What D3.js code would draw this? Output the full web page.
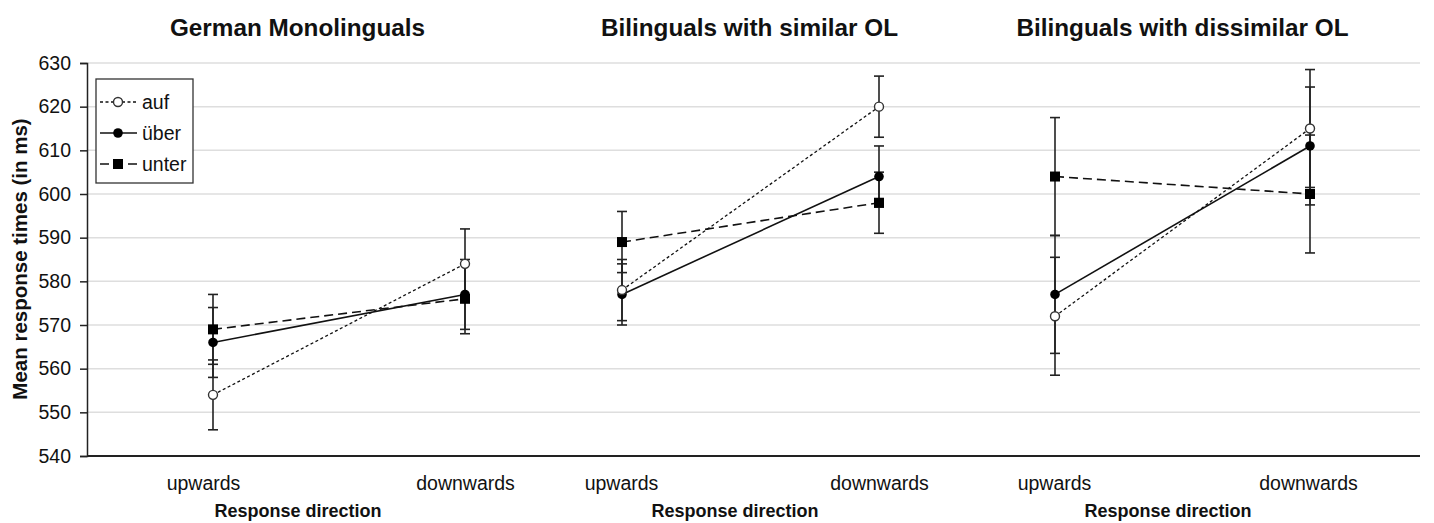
<!DOCTYPE html>
<html><head><meta charset="utf-8">
<script src="https://cdn.jsdelivr.net/npm/d3@7"></script>
<style>
body{margin:0;background:#fff;}
text{font-family:"Liberation Sans",Arial,sans-serif;fill:#111;}
</style></head>
<body><svg id="c" width="1434" height="523"></svg>
<script>
const panels = ["German Monolinguals","Bilinguals with similar OL","Bilinguals with dissimilar OL"];
const directions = ["upwards","downwards"];
const seriesNames = ["auf","über","unter"];
// means [panel][direction]
const auf   = [[554,584],[578,620],[572,615]];
const uber  = [[566,577],[577,604],[577,611]];
const unter = [[569,576],[589,598],[604,600]];
// error bar half-widths per panel
const errors = [8,7,13.5];
const yTicks = [540,550,560,570,580,590,600,610,620,630];

const svg = d3.select("#c");
const y = d3.scaleLinear().domain([540,630]).range([456,63]);
const panelRanges = [[213,465],[622,879],[1055,1310]];
const panelExtents = [[87,577],[577,1005],[1005,1420]];
const labelShift = [[-10,0],[-1,0],[-1,-2]];
const xs = panelRanges.map(r=>d3.scalePoint().domain(directions).range(r).padding(0));

// gridlines
svg.append("g").selectAll("line").data(yTicks.slice(1)).join("line")
  .attr("x1",87).attr("x2",1420).attr("y1",d=>y(d)).attr("y2",d=>y(d))
  .attr("stroke","#dedede").attr("stroke-width",1.5);

// y axis
const yAxis = svg.append("g").attr("transform","translate(87,0)")
  .call(d3.axisLeft(y).tickValues(yTicks).tickSize(7).tickPadding(9));
yAxis.select(".domain").attr("stroke","#222").attr("stroke-width",1.5);
yAxis.selectAll(".tick line").attr("stroke","#222").attr("stroke-width",1.5);
yAxis.selectAll(".tick text").style("font-size","19.5px").style("font-family","Liberation Sans, Arial").attr("fill","#111");

svg.append("text").attr("transform","translate(27,259) rotate(-90)")
  .attr("text-anchor","middle").style("font-size","20.5px").style("font-weight","bold")
  .text("Mean response times (in ms)");

const series = [
  {name:"auf", vals:auf, dash:"3,2.5", width:1.3, marker:"open"},
  {name:"über", vals:uber, dash:null, width:1.6, marker:"circle"},
  {name:"unter", vals:unter, dash:"9,5", width:1.6, marker:"square"}
];

function drawMarker(g, type, cx, cy){
  if(type==="square"){
    g.append("rect").attr("x",cx-5).attr("y",cy-5).attr("width",10).attr("height",10).attr("fill","#000");
  } else if(type==="circle"){
    g.append("circle").attr("cx",cx).attr("cy",cy).attr("r",4.8).attr("fill","#000");
  } else {
    g.append("circle").attr("cx",cx).attr("cy",cy).attr("r",4.5).attr("fill","#fff").attr("stroke","#333").attr("stroke-width",1.4);
  }
}

panels.forEach((title,p)=>{
  const x = xs[p];
  const g = svg.append("g");
  const ext = panelExtents[p];
  g.append("line").attr("x1",ext[0]).attr("x2",ext[1]).attr("y1",y(540)).attr("y2",y(540))
    .attr("stroke","#222").attr("stroke-width",1.8);
  const xa = g.append("g").attr("transform",`translate(0,${y(540)})`)
    .call(d3.axisBottom(x).tickSize(0).tickPadding(20));
  xa.select(".domain").remove();
  xa.selectAll(".tick text").style("font-size","19.5px").style("font-family","Liberation Sans, Arial").attr("fill","#111")
    .attr("dx",(d,i)=>labelShift[p][i]);
  g.append("text").attr("x",[298,735,1168][p]).attr("y",517)
    .attr("text-anchor","middle").style("font-size","18px").style("font-weight","bold").text("Response direction");
  g.append("text").attr("x",[297.5,749.5,1182.5][p]).attr("y",36)
    .attr("text-anchor","middle").style("font-size","24.3px").style("font-weight","bold").text(title);

  const e = errors[p];
  series.forEach(s=>{
    directions.forEach((d,i)=>{
      const v = s.vals[p][i], cx = x(d);
      g.append("line").attr("x1",cx).attr("x2",cx).attr("y1",y(v-e)).attr("y2",y(v+e)).attr("stroke","#222").attr("stroke-width",1.6);
      [v-e,v+e].forEach(t=>g.append("line").attr("x1",cx-5).attr("x2",cx+5).attr("y1",y(t)).attr("y2",y(t)).attr("stroke","#222").attr("stroke-width",1.6));
    });
  });
  series.forEach(s=>{
    const line = d3.line().x((v,i)=>x(directions[i])).y(v=>y(v));
    g.append("path").datum(s.vals[p]).attr("d",line).attr("fill","none")
      .attr("stroke","#111").attr("stroke-width",s.width).attr("stroke-dasharray",s.dash);
  });
  series.slice().reverse().forEach(s=>{
    directions.forEach((d,i)=>drawMarker(g,s.marker,x(d),y(s.vals[p][i])));
  });
});

// legend
const lg = svg.append("g");
lg.append("rect").attr("x",96).attr("y",79).attr("width",97).attr("height",104)
  .attr("fill","#fff").attr("stroke","#333").attr("stroke-width",1.3);
series.forEach((s,i)=>{
  const ly = [102,133,164][i];
  lg.append("line").attr("x1",100).attr("x2",137).attr("y1",ly).attr("y2",ly)
    .attr("stroke","#111").attr("stroke-width",s.width).attr("stroke-dasharray",s.dash);
  drawMarker(lg,s.marker,118,ly);
  lg.append("text").attr("x",142).attr("y",ly+6.5).style("font-size","19.5px").text(s.name);
});
</script></body></html>
